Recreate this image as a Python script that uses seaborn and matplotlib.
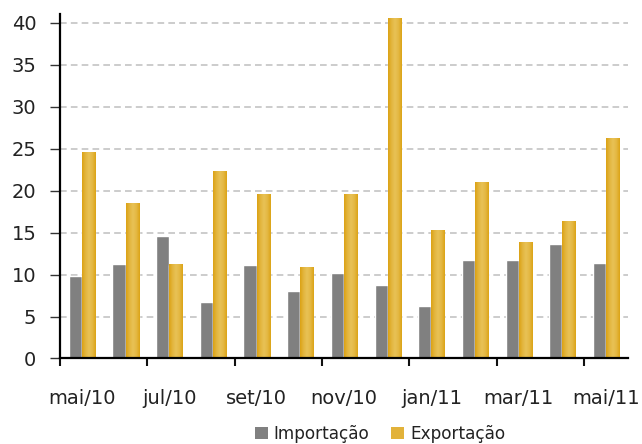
import numpy as np
import pandas as pd
import matplotlib
matplotlib.use("Agg")
import matplotlib.pyplot as plt
from matplotlib.colors import LinearSegmentedColormap
from matplotlib.patches import Patch
import seaborn as sns

meses = ["mai/10", "jun/10", "jul/10", "ago/10", "set/10", "out/10", "nov/10",
         "dez/10", "jan/11", "fev/11", "mar/11", "abr/11", "mai/11"]
importacao = [9.8, 11.3, 14.6, 6.7, 11.1, 8.1, 10.2, 8.7, 6.2, 11.7, 11.7, 13.6, 11.4]
exportacao = [24.5, 18.4, 11.1, 22.2, 19.5, 10.8, 19.5, 40.4, 15.2, 20.9, 13.8, 16.3, 26.1]
series = ["Importação", "Exportação"]
yticks = [0, 5, 10, 15, 20, 25, 30, 35, 40]

df = pd.DataFrame({
    "mes": meses * 2,
    "valor": importacao + exportacao,
    "serie": [series[0]] * len(meses) + [series[1]] * len(meses),
})

sns.set_style("white")
plt.rcParams["font.family"] = ["DejaVu Sans"]

cinza = "#808080"
ouro = "#DFAA22"

fig = plt.figure(figsize=(6.42, 4.44), dpi=100)
ax = fig.add_axes([0.0935, 0.1926, 0.8845, 0.775])

sns.barplot(data=df, x="mes", y="valor", hue="serie", order=meses,
            hue_order=series, palette=[cinza, ouro], width=0.6,
            saturation=1, legend=False, ax=ax, zorder=3)

# Gold bars get a soft cylindrical shading
ouro_cmap = LinearSegmentedColormap.from_list(
    "ouro", ["#DCA214", "#E3B53E", "#E8C256", "#E4B844", "#DCA416"])
grad = np.linspace(0, 1, 64).reshape(1, -1)
n = len(meses)
for p in ax.patches[n:2 * n]:
    x0, y0 = p.get_x(), p.get_y()
    w, h = p.get_width(), p.get_height()
    if h <= 0:
        continue
    ax.imshow(grad, extent=[x0, x0 + w, y0, y0 + h], cmap=ouro_cmap,
              aspect="auto", origin="lower", zorder=3.5, interpolation="bilinear")

ax.set_xlim(-0.5, n - 0.5)
ax.set_ylim(0, 41)
ax.set_aspect("auto")

ax.set_yticks(yticks)
ax.set_yticklabels([str(v) for v in yticks])
ax.yaxis.grid(True, linestyle=(0, (4, 2.5)), color="#C4C4C4", linewidth=1.2, zorder=0)
ax.xaxis.grid(False)

ax.set_xticks(range(0, n, 2))
ax.set_xticklabels(meses[::2])
ax.set_xticks(np.arange(-0.5, n - 1, 2), minor=True)
ax.tick_params(axis="x", which="major", length=0, pad=22, labelsize=14,
               labelcolor="#222222")
ax.tick_params(axis="x", which="minor", length=6, width=1.5, color="#111111",
               direction="out", bottom=True)
ax.tick_params(axis="y", which="major", length=7, width=1, color="#333333",
               direction="out", left=True, pad=10, labelsize=14,
               labelcolor="#222222")

ax.set_xlabel("")
ax.set_ylabel("")
for s in ["top", "right"]:
    ax.spines[s].set_visible(False)
for s in ["left", "bottom"]:
    ax.spines[s].set_color("#000000")
    ax.spines[s].set_linewidth(1.6)
    ax.spines[s].set_zorder(5)

handles = [Patch(facecolor=cinza, edgecolor="none"),
           Patch(facecolor="#E2B23A", edgecolor="none")]
fig.legend(handles, series, loc="center", bbox_to_anchor=(0.592, 0.023),
           ncol=2, frameon=False, fontsize=12.2, handlelength=0.75,
           handleheight=0.75, handletextpad=0.35, columnspacing=1.3,
           labelcolor="#222222")

fig.savefig("out.png", dpi=100)
